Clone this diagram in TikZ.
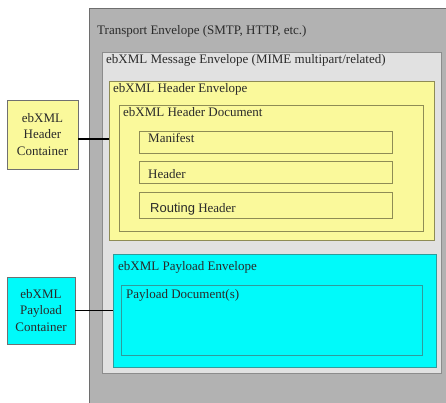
\documentclass[tikz,border=0pt]{standalone}
\usepackage{fontspec}
\setmainfont{Liberation Serif}
\newfontfamily\arialfont{Liberation Sans}
\begin{document}
\begin{tikzpicture}[x=1pt,y=1pt,
  box/.style={draw, rectangle, inner sep=0pt, anchor=north west, line width=0.8pt},
  lbl/.style={inner sep=0pt, anchor=base west, text=txtgray, font=\fontsize{13}{15}\selectfont},
  container/.style={draw=ctrgray, rectangle, inner sep=0pt, line width=0.8pt,
    align=center, text=txtgray, font=\fontsize{13}{16.7}\selectfont},
  wire/.style={line width=1.3pt, black}]
\definecolor{txtgray}{HTML}{2A2A2A}
\definecolor{transfill}{HTML}{B2B2B2}
\definecolor{transline}{HTML}{6E6E6E}
\definecolor{msgfill}{HTML}{E1E1E1}
\definecolor{msgline}{HTML}{8C8C8C}
\definecolor{hdrfill}{HTML}{FAF99B}
\definecolor{hdrline}{HTML}{8E8C55}
\definecolor{payfill}{HTML}{00FAFA}
\definecolor{payline}{HTML}{2E9C9C}
\definecolor{ctrgray}{HTML}{707070}
\useasboundingbox (0,0) rectangle (446,402);
\clip (0,0) rectangle (446,402);
% nested envelopes (y measured from the top edge)
\node[box, draw=transline, fill=transfill, minimum width=370, minimum height=410] (transport) at (89,402-8) {};
\node[box, draw=msgline, fill=msgfill, minimum width=339.5, minimum height=321] (message) at (101.5,402-52) {};
\node[box, draw=hdrline, fill=hdrfill, minimum width=325, minimum height=159] (henv) at (109,402-81) {};
\node[box, draw=hdrline, fill=hdrfill, minimum width=304, minimum height=126] (hdoc) at (119,402-105) {};
\node[box, draw=hdrline, fill=hdrfill, minimum width=253, minimum height=22] (manifest) at (139,402-131) {};
\node[box, draw=hdrline, fill=hdrfill, minimum width=253, minimum height=22] (header) at (139,402-161) {};
\node[box, draw=hdrline, fill=hdrfill, minimum width=253, minimum height=26] (routing) at (139,402-192) {};
\node[box, draw=payline, fill=payfill, minimum width=323, minimum height=113] (penv) at (113,402-254) {};
\node[box, draw=payline, fill=payfill, minimum width=301, minimum height=70] (pdoc) at (121,402-285) {};
% titles
\node[lbl] (ttrans) at (97,402-35) {Transport Envelope (SMTP, HTTP, etc.)};
\node[lbl] (tmsg) at (106,402-64) {ebXML Message Envelope (MIME multipart/related)};
\node[lbl] (thenv) at (113,402-93) {ebXML Header Envelope};
\node[lbl] (thdoc) at (123,402-117) {ebXML Header Document};
\node[lbl] (tman) at (148,402-143) {Manifest};
\node[lbl] (thdr) at (148,402-178) {Header};
\node[lbl] (trout) at (150,402-212) {{\arialfont Routing} Header};
\node[lbl] (tpenv) at (118,402-270) {ebXML Payload Envelope};
\node[lbl] (tpdoc) at (126,402-298) {Payload Document(s)};
% side containers
\node[container, fill=hdrfill, minimum width=71, minimum height=69] (hc) at (42.5,402-134.5) {ebXML\\Header\\Container};
\node[container, fill=payfill, minimum width=68, minimum height=67] (pc) at (41,402-310.5) {ebXML\\Payload\\Container};
% links
\coordinate (hcout) at ([yshift=-4.5pt]hc.east);
\draw[wire] (hcout) -- (henv.west |- hcout);
\draw[wire] (pc.east) -- (penv.west |- pc.east);
\end{tikzpicture}
\end{document}
